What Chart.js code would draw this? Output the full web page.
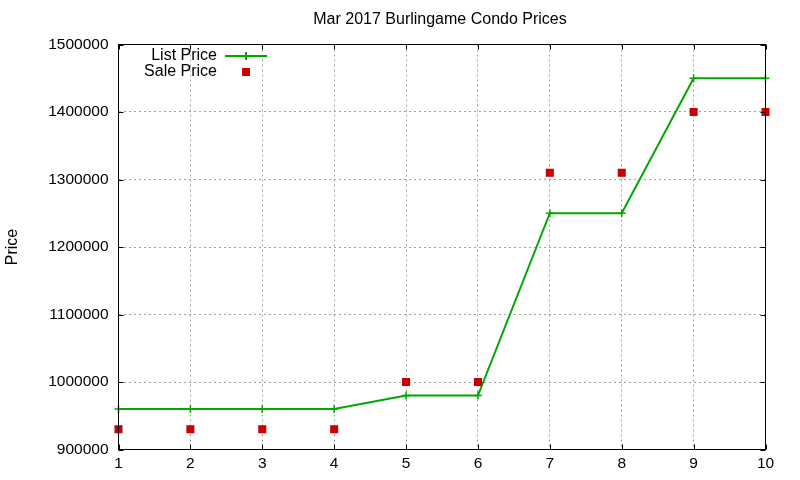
<!DOCTYPE html>
<html>
<head>
<meta charset="utf-8">
<script src="https://cdn.jsdelivr.net/npm/chart.js@4/dist/chart.umd.min.js"></script>
<style>
  html, body { margin: 0; padding: 0; background: #fff; }
  #wrap { width: 800px; height: 480px; }
</style>
</head>
<body>
<div id="wrap"><canvas id="myChart" width="800" height="480"></canvas></div>
<script>
// data
let days = [1, 2, 3, 4, 5, 6, 7, 8, 9, 10];
let listPrice = [960000, 960000, 960000, 960000, 980000, 980000, 1250000, 1250000, 1450000, 1450000];
let salePrice = [930000, 930000, 930000, 930000, 1000000, 1000000, 1310000, 1310000, 1400000, 1400000];
let yTicks = [900000, 1000000, 1100000, 1200000, 1300000, 1400000, 1500000];

let chartTitle = 'Mar 2017 Burlingame Condo Prices';
let fontFamily = '"Liberation Sans", Arial, sans-serif';
let green = '#00a800';
let red = '#cc0000';

// frame, inward ticks on all sides, title and key like gnuplot
const gnuplotBits = {
  id: 'gnuplotBits',
  afterDraw(chart) {
    const ctx = chart.ctx;
    const area = chart.chartArea;
    const xs = chart.scales.x;
    const ys = chart.scales.y;
    ctx.save();

    ctx.strokeStyle = '#000';
    ctx.lineWidth = 1;
    ctx.beginPath();
    days.forEach(d => {
      const px = Math.round(xs.getPixelForValue(d)) + 0.5;
      ctx.moveTo(px, area.bottom); ctx.lineTo(px, area.bottom - 5);
      ctx.moveTo(px, area.top); ctx.lineTo(px, area.top + 5);
    });
    yTicks.forEach(v => {
      const py = Math.round(ys.getPixelForValue(v)) + 0.5;
      ctx.moveTo(area.left, py); ctx.lineTo(area.left + 5, py);
      ctx.moveTo(area.right, py); ctx.lineTo(area.right - 5, py);
    });
    ctx.stroke();
    ctx.strokeRect(area.left, area.top, area.right - area.left, area.bottom - area.top);

    ctx.fillStyle = '#000';
    ctx.font = '16px ' + fontFamily;
    ctx.textAlign = 'center';
    ctx.textBaseline = 'middle';
    ctx.fillText(chartTitle, (area.left + area.right) / 2 - 2, 20);

    // key
    const ds = chart.data.datasets;
    ctx.textAlign = 'right';
    ctx.fillText(ds[0].label, 217, 56);
    ctx.fillText(ds[1].label, 217, 72);
    ctx.strokeStyle = green;
    ctx.lineWidth = 2;
    ctx.beginPath();
    ctx.moveTo(225, 56); ctx.lineTo(267, 56);
    ctx.moveTo(246, 52); ctx.lineTo(246, 60);
    ctx.stroke();
    ctx.fillStyle = red;
    ctx.fillRect(242, 68, 8, 8);
    ctx.restore();
  }
};

const ctx = document.getElementById('myChart').getContext('2d');

new Chart(ctx, {
  type: 'line',
  data: {
    datasets: [{
      label: 'List Price',
      data: days.map((d, i) => ({ x: d, y: listPrice[i] })),
      borderColor: green,
      borderWidth: 2,
      pointStyle: 'cross',
      pointRadius: 4,
      pointBorderWidth: 1.5,
      pointBorderColor: green,
      tension: 0,
      clip: false,
      order: 2
    }, {
      label: 'Sale Price',
      data: days.map((d, i) => ({ x: d, y: salePrice[i] })),
      showLine: false,
      pointStyle: 'rect',
      pointRadius: 5.7,
      pointBorderWidth: 0,
      pointBackgroundColor: red,
      pointBorderColor: red,
      clip: false,
      order: 1
    }]
  },
  options: {
    responsive: false,
    animation: false,
    layout: { padding: { top: 44.5, right: 34.5, left: 0, bottom: 0 } },
    plugins: {
      legend: { display: false },
      title: { display: false },
      tooltip: { enabled: false }
    },
    scales: {
      x: {
        type: 'linear',
        min: 1,
        max: 10,
        afterFit: (scale) => { scale.height = 30.5; },
        afterBuildTicks: (scale) => { scale.ticks = days.map(v => ({ value: v })); },
        ticks: {
          color: '#000',
          padding: 5,
          font: { family: fontFamily, size: 15.5 },
          callback: (v) => String(v)
        },
        grid: {
          color: '#a0a0a0',
          lineWidth: 1,
          drawTicks: false
        },
        border: { display: false, dash: [2, 3] }
      },
      y: {
        min: 900000,
        max: 1500000,
        afterFit: (scale) => { scale.width = 118.5; },
        afterBuildTicks: (scale) => { scale.ticks = yTicks.map(v => ({ value: v })); },
        ticks: {
          color: '#000',
          padding: 10,
          font: { family: fontFamily, size: 15.5 },
          callback: (v) => String(v)
        },
        grid: {
          color: '#a0a0a0',
          lineWidth: 1,
          drawTicks: false
        },
        border: { display: false, dash: [2, 3] },
        title: {
          display: true,
          text: 'Price',
          color: '#000',
          padding: { top: 3, bottom: 0 },
          font: { family: fontFamily, size: 16 }
        }
      }
    }
  },
  plugins: [gnuplotBits]
});
</script>
</body>
</html>
